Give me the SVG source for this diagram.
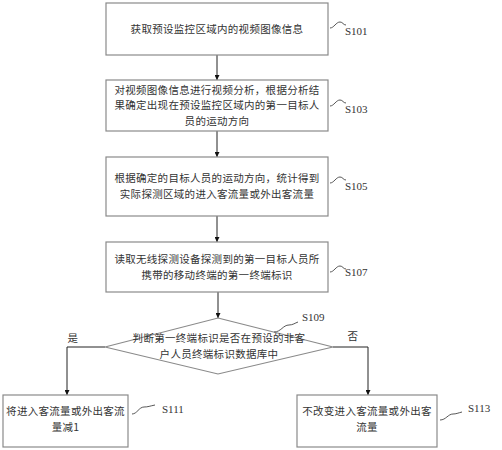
<svg xmlns="http://www.w3.org/2000/svg" width="502" height="450" viewBox="0 0 502 450">
<defs>
<marker id="ah" viewBox="0 0 6 6" refX="6" refY="3" markerWidth="5" markerHeight="5" orient="auto" markerUnits="userSpaceOnUse">
<path d="M0,0 L6,3 L0,6 Z" fill="#111"/>
</marker>
<style>
.box{fill:#fff;stroke:#8a8a8a;stroke-width:1.2}
.t{font-family:"Noto Sans CJK SC","Noto Sans CJK JP",sans-serif;font-size:10.5px;letter-spacing:0.3px;fill:#333;text-anchor:middle}
.s{font-family:"Liberation Serif",serif;font-size:11px;fill:#333}
.ln{fill:none;stroke:#222;stroke-width:1}
.sq{fill:none;stroke:#444;stroke-width:0.9}
</style>
</defs>
<rect width="502" height="450" fill="#fff"/>
<g id="connectors">
<line class="ln" x1="217" y1="55" x2="217" y2="80" marker-end="url(#ah)"/>
<line class="ln" x1="217" y1="131" x2="217" y2="157" marker-end="url(#ah)"/>
<line class="ln" x1="217" y1="216" x2="217" y2="242" marker-end="url(#ah)"/>
<line class="ln" x1="218" y1="292" x2="218" y2="318" marker-end="url(#ah)"/>
<polyline class="ln" points="105,347 67,347 67,395" marker-end="url(#ah)"/>
<polyline class="ln" points="333,347 368,347 368,395" marker-end="url(#ah)"/>
</g>
<g id="S101">
<rect class="box" x="106" y="3" width="222" height="52"/>
<text class="t" x="217" y="33">获取预设监控区域内的视频图像信息</text>
<path class="sq" d="M330,28 C334,28 336,22 340,22 C343,22 343,25 346,25"/>
<text class="s" x="345" y="35">S101</text>
</g>
<g id="S103">
<rect class="box" x="106" y="80" width="222" height="51"/>
<text class="t" x="217" y="93.5">对视频图像信息进行视频分析，根据分析结</text>
<text class="t" x="217" y="109">果确定出现在预设监控区域内的第一目标人</text>
<text class="t" x="217" y="124.5">员的运动方向</text>
<path class="sq" d="M330,106 C334,106 336,100 340,100 C343,100 343,103 346,103"/>
<text class="s" x="345" y="113">S103</text>
</g>
<g id="S105">
<rect class="box" x="106" y="157" width="222" height="59"/>
<text class="t" x="217" y="182">根据确定的目标人员的运动方向，统计得到</text>
<text class="t" x="217" y="198">实际探测区域的进入客流量或外出客流量</text>
<path class="sq" d="M330,183 C334,183 336,177 340,177 C343,177 343,180 346,180"/>
<text class="s" x="345" y="190">S105</text>
</g>
<g id="S107">
<rect class="box" x="106" y="242" width="222" height="50"/>
<text class="t" x="217" y="263">读取无线探测设备探测到的第一目标人员所</text>
<text class="t" x="217" y="279">携带的移动终端的第一终端标识</text>
<path class="sq" d="M330,272 C334,272 336,266 340,266 C343,266 343,269 346,269"/>
<text class="s" x="345" y="276">S107</text>
</g>
<g id="S109">
<polygon class="box" points="218,318 333,347 218,374 105,347"/>
<text class="t" x="219" y="342">判断第一终端标识是否在预设的非客</text>
<text class="t" x="219" y="358">户人员终端标识数据库中</text>
<path class="sq" d="M274,332 C281,332 283,325 289,325 C293,325 295,323 298,322"/>
<text class="s" x="302" y="321">S109</text>
</g>
<g id="S111">
<rect class="box" x="3" y="395" width="125" height="52"/>
<text class="t" x="65.5" y="415">将进入客流量或外出客流</text>
<text class="t" x="65.5" y="431">量减1</text>
<path class="sq" d="M132,414 C137,414 139,407 144,407 C148,407 150,406 155,405"/>
<text class="s" x="162" y="413">S111</text>
</g>
<g id="S113">
<rect class="box" x="297" y="395" width="140" height="52"/>
<text class="t" x="367" y="415">不改变进入客流量或外出客</text>
<text class="t" x="367" y="431">流量</text>
<path class="sq" d="M440,420 C446,420 448,414 453,414 C456,414 458,413 462,412"/>
<text class="s" x="468" y="412">S113</text>
</g>
<g id="labels">
<text class="t" x="73" y="342">是</text>
<text class="t" x="353" y="340">否</text>
</g>
</svg>
